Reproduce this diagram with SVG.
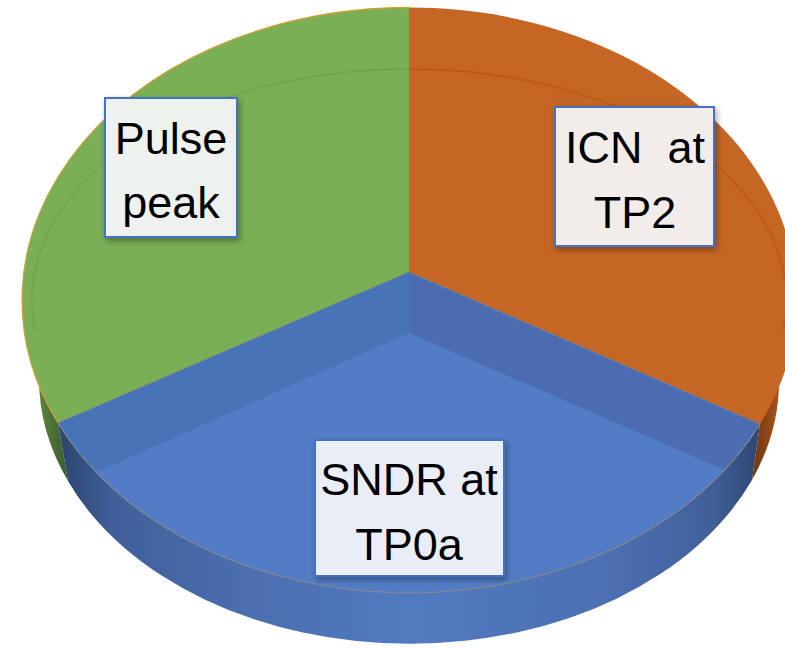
<svg xmlns="http://www.w3.org/2000/svg" width="785" height="648" viewBox="0 0 785 648">
  <style>
    .lbl { font-family: "Liberation Sans", Arial, sans-serif; font-size: 45px; fill: #000; text-anchor: middle; }
    .box { stroke: #4472C4; stroke-width: 2; }
    .rim { fill: none; stroke-width: 1.3; }
  </style>
  <defs>
    <linearGradient id="gSideBlue" x1="58" y1="0" x2="760" y2="0" gradientUnits="userSpaceOnUse">
      <stop offset="0" stop-color="#2c446d"/>
      <stop offset="0.08" stop-color="#41609a"/>
      <stop offset="0.3" stop-color="#4c70b2"/>
      <stop offset="0.5" stop-color="#517abf"/>
      <stop offset="0.78" stop-color="#4c70b3"/>
      <stop offset="0.93" stop-color="#41609a"/>
      <stop offset="1" stop-color="#2f4670"/>
    </linearGradient>
    <linearGradient id="gSideGreen" x1="25" y1="0" x2="68" y2="0" gradientUnits="userSpaceOnUse">
      <stop offset="0" stop-color="#6d9a4a"/>
      <stop offset="1" stop-color="#3a5a2a"/>
    </linearGradient>
    <linearGradient id="gSideOrange" x1="752" y1="0" x2="785" y2="0" gradientUnits="userSpaceOnUse">
      <stop offset="0" stop-color="#6e3410"/>
      <stop offset="1" stop-color="#b55b1d"/>
    </linearGradient>
    <filter id="shadow" x="-20%" y="-20%" width="140%" height="140%">
      <feDropShadow dx="2" dy="3" stdDeviation="3" flood-color="#000" flood-opacity="0.35"/>
    </filter>
  </defs>

  <!-- side walls -->
  <g id="sides">
    <path d="M58,423 L68,481 A370 264 0 0 1 39,378 L36,300 Z" fill="url(#gSideGreen)"/>
    <path d="M58,423 L68,481 A370 264 0 0 0 752,480 L760,424 Z" fill="url(#gSideBlue)"/>
    <path d="M760,424 L752,480 A370 264 0 0 0 779,378 L782,300 Z" fill="url(#gSideOrange)"/>
  </g>

  <!-- top face slices -->
  <g id="slice-green">
    <path d="M409,272 L409,7.5 A387 292.5 0 0 0 58,423 Z" fill="#7AAF55"/>
    <path d="M409,7.5 A387 292.5 0 0 0 58,423" class="rim" stroke="#C9A03A"/>
    <path d="M409,69 A377 231 0 0 0 35,330" class="rim" stroke="#6FA34B"/>
  </g>
  <g id="slice-orange">
    <path d="M409,272 L409,7.5 A387 292.5 0 0 1 760,424 Z" fill="#C56624"/>
    <path d="M409,69 A377 231 0 0 1 783,330" class="rim" stroke="#B8561A"/>
  </g>
  <g id="slice-blue">
    <path d="M409,272 L760,424 A387 292.5 0 0 1 58,423 Z" fill="#527DC6"/>
    <path d="M409,272 L58,423 A387 292.5 0 0 0 97,472 L409,333 Z" fill="#4674B6"/>
    <path d="M409,272 L760,424 A387 292.5 0 0 1 725,470 L409,333 Z" fill="#4B6CB0"/>
    <path d="M760,424 A387 292.5 0 0 1 58,423" class="rim" stroke="#7E8796"/>
    <path d="M58,423 L409,272 L760,424" fill="none" stroke="#7d7f86" stroke-width="0.8"/>
  </g>

  <!-- labels -->
  <g id="label-pulse-peak">
    <rect x="105" y="98" width="132" height="139" fill="#EEF2EE" class="box" filter="url(#shadow)"/>
    <text class="lbl" x="171" y="154">Pulse</text>
    <text class="lbl" x="171" y="218">peak</text>
  </g>
  <g id="label-icn">
    <rect x="555" y="107" width="159" height="139" fill="#F2EDEB" class="box" filter="url(#shadow)"/>
    <text class="lbl" x="635" y="163" xml:space="preserve">ICN  at</text>
    <text class="lbl" x="635" y="228">TP2</text>
  </g>
  <g id="label-sndr">
    <rect x="315" y="440" width="189" height="136" fill="#E9EEF6" class="box" filter="url(#shadow)"/>
    <text class="lbl" x="409" y="495">SNDR at</text>
    <text class="lbl" x="409" y="560">TP0a</text>
  </g>
</svg>
